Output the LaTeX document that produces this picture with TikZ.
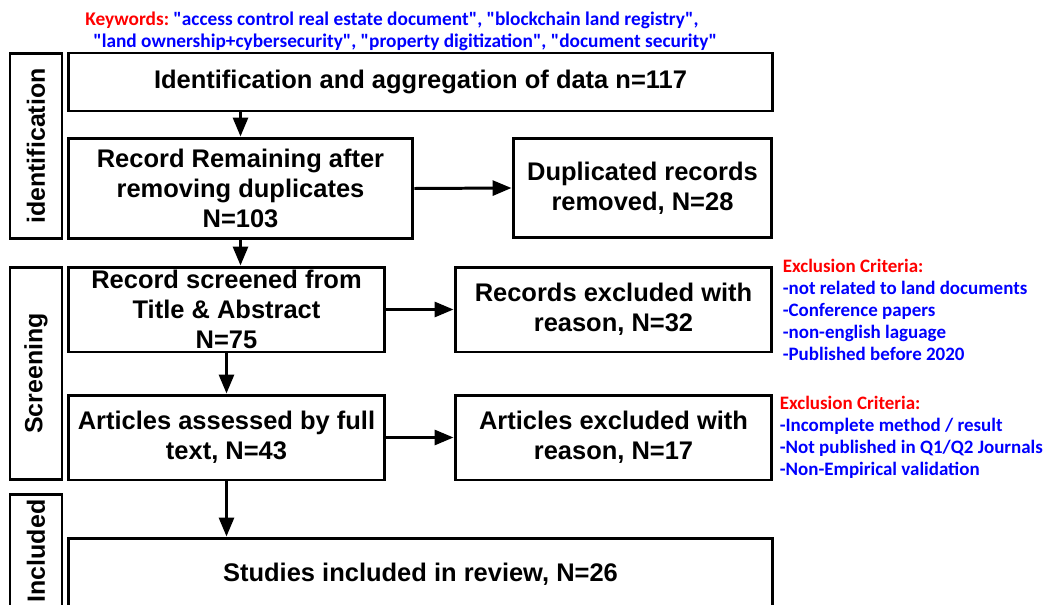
\documentclass[tikz,border=0pt]{standalone}
\usepackage{fontspec}
\setmainfont{Liberation Sans}
\newfontfamily\calib{Carlito}
\usetikzlibrary{arrows.meta,positioning}

\begin{document}
\begin{tikzpicture}[x=0.02cm,y=-0.02cm,
	box/.style={draw,line width=1.7pt,align=center,inner sep=0pt,font=\fontsize{14.5}{17}\selectfont\bfseries},
	side/.style={draw,line width=1.7pt,rotate=90,inner sep=0pt,minimum height=1.04cm,font=\fontsize{14.2}{17}\selectfont\bfseries},
	arr/.style={line width=1.7pt,-{Triangle[length=0.38cm,width=0.3cm]}},
	crit/.style={align=left,inner sep=0pt,text=blue,font=\calib\fontsize{10.8}{12.5}\selectfont\bfseries}]
	\useasboundingbox (0,0) rectangle (1049,605);

	\node[anchor=west,align=left,inner sep=0pt,font=\calib\fontsize{11}{12.5}\selectfont\bfseries,text=blue] (kw) at (85,31)
		{{\color{red}Keywords:}\ "access control real estate document", "blockchain land registry",\\
		 \hspace*{0.16cm}"land ownership+cybersecurity", "property digitization", "document security"};

	\foreach \lbl/\y/\h [count=\n] in {identification/146/3.72,Screening/373.5/4.26,Included/551/2.28}
		\node[side,minimum width=\h cm] (S\n) at (36,\y) {\lbl};

	\node[box,minimum width=14.1cm,minimum height=1.16cm] (box1) at (420.5,82) {Identification and aggregation of data n=117};
	\node[box,minimum width=6.9cm,minimum height=2.02cm] (box2) at (240.5,188.5) {Record Remaining after\\removing duplicates\\N=103};
	\node[box,minimum width=5.18cm,minimum height=2cm] (dup) at (642.5,188) {Duplicated records\\removed, N=28};
	\node[box,minimum width=6.34cm,minimum height=1.7cm] (box3) at (226.5,309.5) {Record screened from\\Title \& Abstract\\N=75};
	\node[box,minimum width=6.34cm,minimum height=1.7cm] (excl1) at (613.5,309.5) {Records excluded with\\reason, N=32};
	\node[box,minimum width=6.34cm,minimum height=1.7cm] (box4) at (226.5,437.5) {Articles assessed by full\\text, N=43};
	\node[box,minimum width=6.34cm,minimum height=1.7cm] (excl2) at (613.5,437.5) {Articles excluded with\\reason, N=17};
	\node[box,minimum width=14.1cm,minimum height=1.44cm] (final) at (420.5,574) {Studies included in review, N=26};

	\node[crit,right=0.18cm of excl1] (crit1) {{\color{red}Exclusion Criteria:}\\-not related to land documents\\-Conference papers\\-non-english laguage\\-Published before 2020};
	\node[crit,right=0.12cm of excl2] (crit2) {{\color{red}Exclusion Criteria:}\\-Incomplete method / result\\-Not published in Q1/Q2 Journals\\-Non-Empirical validation};

	\draw[arr] (box1.south -| box2.north) -- (box2.north);
	\draw[arr] (box2.east) -- (dup.west);
	\draw[arr] (box2.south) -- (box2.south |- box3.north);
	\draw[arr] (box3.east) -- (excl1.west);
	\draw[arr] (box3.south) -- (box4.north);
	\draw[arr] (box4.east) -- (excl2.west);
	\draw[arr] (box4.south) -- (box4.south |- final.north);
\end{tikzpicture}
\end{document}
